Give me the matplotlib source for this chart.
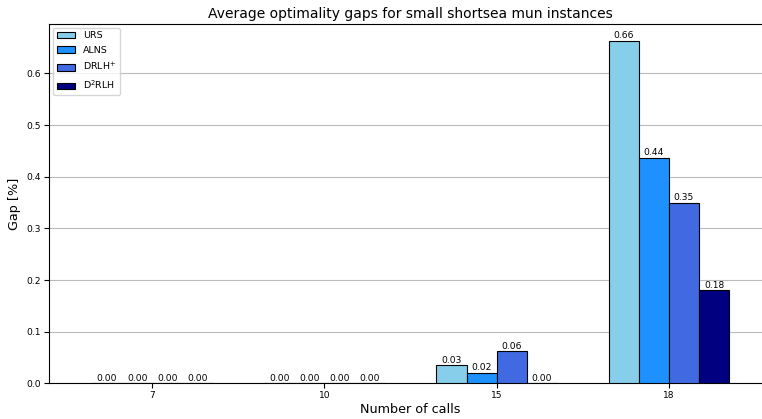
import numpy as np
import matplotlib
matplotlib.use("Agg")
import matplotlib.pyplot as plt

calls = ["7", "10", "15", "18"]
methods = ["URS", "ALNS", "DRLH$^{+}$", "D$^{2}$RLH"]
colors = ["skyblue", "dodgerblue", "royalblue", "navy"]

urs = [0.0, 0.0, 0.0348, 0.663]
alns = [0.0, 0.0, 0.0199, 0.436]
drlh_plus = [0.0, 0.0, 0.062, 0.349]
d2rlh = [0.0, 0.0, 0.0, 0.180]

gaps = [urs, alns, drlh_plus, d2rlh]

fig = plt.figure(figsize=(7.62, 4.19), dpi=100)
# axes run slightly past the right edge of the canvas
ax = fig.add_axes([0.0643, 0.085, 0.949, 0.858])

x = np.arange(len(calls))
w = 0.175
for i, (name, vals, c) in enumerate(zip(methods, gaps, colors)):
    bars = ax.bar(x + (i - 1.5) * w, vals, w, label=name, color=c,
                  edgecolor="black", linewidth=0.8, zorder=3)
    ax.bar_label(bars, fmt="%.2f", fontsize=6.6, padding=0.5)

ax.set_xticks(x)
ax.set_xticklabels(calls)
ax.tick_params(axis="both", labelsize=6.6, pad=2, length=3.5)
ax.yaxis.grid(True, color="#bbbbbb", linewidth=0.8, zorder=0)
ax.set_axisbelow(True)
ax.set_xlim(-0.6, 3.6)
ax.set_ylim(0, 0.696)

ax.set_xlabel("Number of calls", fontsize=9.2, labelpad=2)
ax.set_ylabel("Gap [%]", fontsize=9.2, labelpad=4)
ax.set_title("Average optimality gaps for small shortsea mun instances",
             fontsize=10, pad=4)
ax.legend(loc="upper left", fontsize=6.8, labelspacing=0.6,
          borderaxespad=0.4)

fig.savefig("out.png", dpi=100)
